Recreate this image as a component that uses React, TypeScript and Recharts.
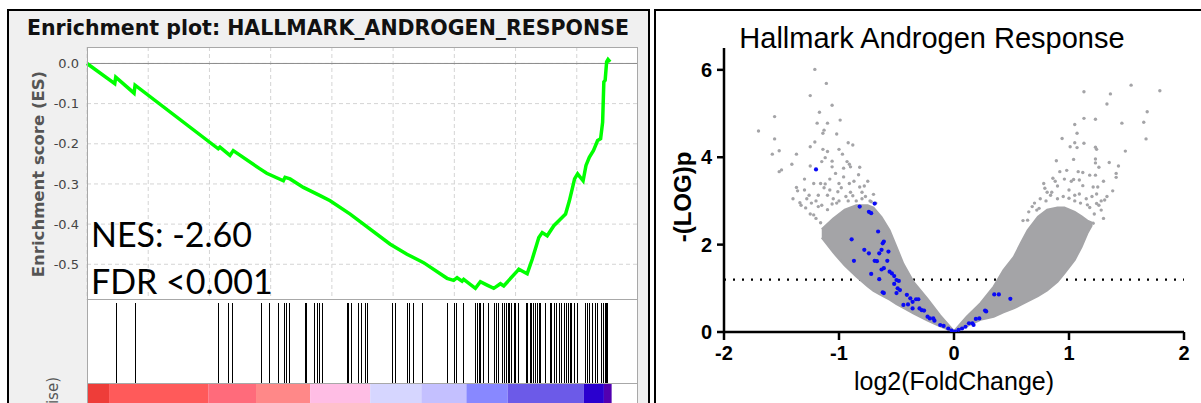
import React from "react";
import {
  ComposedChart,
  LineChart,
  Line,
  Bar,
  Area,
  Scatter,
  XAxis,
  YAxis,
  CartesianGrid,
  ReferenceLine,
  ReferenceArea,
} from "recharts";

// ---------- GSEA enrichment plot ----------
const RANK_MAX = 27000;
const rankTicks = [3000, 6000, 9000, 12000, 15000, 18000, 21000, 24000];
const esTicks = [0, -0.1, -0.2, -0.3, -0.4, -0.5];

// running enrichment score along the ranked list
const esRank = [
  0, 1360, 1409, 2307, 2356, 6431, 6514, 7005, 7167, 8478, 8807, 9622, 9705, 9950, 10603,
  11423, 11914, 12896, 14859, 15679, 16332, 16494, 17643, 17967, 18134, 18379, 18458, 19032,
  19277, 19606, 19931, 20259, 20421, 21079, 21158, 21570, 21816, 22140, 22307, 22552, 22876,
  23205, 23450, 23637, 23794, 23892, 24040, 24310, 24452, 24614, 24820, 25021, 25168, 25267,
  25326, 25390, 25463, 25531, 25634,
];
const esScore = [
  0, -0.05, -0.034, -0.074, -0.054, -0.2125, -0.2085, -0.229, -0.217, -0.2625, -0.2735, -0.292,
  -0.2835, -0.2875, -0.3085, -0.329, -0.342, -0.375, -0.45, -0.475, -0.492, -0.496, -0.535,
  -0.54, -0.5335, -0.542, -0.5375, -0.56, -0.5435, -0.552, -0.56, -0.5485, -0.554, -0.517,
  -0.5125, -0.5235, -0.4875, -0.4335, -0.421, -0.429, -0.404, -0.3875, -0.375, -0.342, -0.3085,
  -0.2875, -0.275, -0.292, -0.254, -0.2335, -0.2168, -0.192, -0.1875, -0.146, -0.046, -0.042,
  0.004, 0.01, 0.004,
];

// positions of gene-set members in the ranked list
const hitRanks = [
  1409, 2342, 6426, 6912, 7128, 8527, 8944, 9347, 9671, 9739, 9887, 10687, 10736, 11129, 11261,
  11389, 11507, 12734, 12813, 12931, 13274, 13436, 13633, 13745, 14943, 15105, 15679, 15758,
  15974, 16416, 17643, 17967, 18100, 18428, 19032, 19130, 19194, 19278, 19425, 19656, 19936,
  20048, 20137, 20343, 20456, 20554, 20618, 20701, 20785, 20912, 20996, 21109, 21521, 21585,
  21698, 21767, 21880, 21978, 22061, 22140, 22223, 22468, 22689, 22714, 22876, 22984, 23122,
  23239, 23367, 23451, 23583, 23662, 23730, 23858, 23990, 24398, 24516, 24614, 24761, 24874,
  25006, 25203, 25301, 25365, 25429, 25463,
];

// ranked list metric heat strip
const stripFrom = [0, 1080, 5940, 8282, 10933, 13878, 16382, 18591, 20618, 24349, 25330];
const stripTo = [1080, 5940, 8282, 10933, 13878, 16382, 18591, 20618, 24349, 25330, 25708];
const stripColor = [
  "#ee3d39", "#ff5a5a", "#ff6b7b", "#ff8888", "#ffbde4", "#d6d6ff",
  "#c4c0ff", "#8888ff", "#6c5ae8", "#2a00cf", "#5200b0",
];

// ---------- volcano plot ----------
const fcTicks = [-2, -1, 0, 1, 2];
const pTicks = [0, 2, 4, 6];
const pCutoff = 1.2;

// envelope of the dense point cloud
const bandX = [
  -1.15, -1.05, -0.95, -0.85, -0.75, -0.7, -0.63, -0.56, -0.5, -0.44, -0.35, -0.23, -0.12, 0,
  0.11, 0.23, 0.345, 0.43, 0.52, 0.58, 0.64, 0.73, 0.81, 0.9, 0.96, 1.05, 1.11, 1.16, 1.2,
];
const bandLo = [
  2.16, 1.82, 1.52, 1.27, 1.04, 0.94, 0.84, 0.74, 0.64, 0.55, 0.42, 0.26, 0.13, 0,
  0.13, 0.28, 0.35, 0.45, 0.54, 0.62, 0.7, 0.82, 0.95, 1.15, 1.34, 1.65, 1.95, 2.26, 2.45,
];
const bandHi = [
  2.35, 2.6, 2.8, 2.9, 2.9, 2.85, 2.63, 2.33, 1.95, 1.56, 1.14, 0.76, 0.38, 0.02,
  0.35, 0.66, 1.04, 1.42, 1.72, 2.03, 2.33, 2.64, 2.8, 2.85, 2.85, 2.75, 2.65, 2.55, 2.5,
];

// scattered genes outside the dense cloud
const grayX = [
  -1.21, -1.11, -1.25, -1.06, -1.17, -1.56, -0.99, -1.19, -1.1, -1.7, -1.13, -1.14, -1.02, -1.56,
  -1.21, -0.92, -0.88, -1.25, -1.14, -1.0, -1.52, -1.1, -1.58, -1.37, -0.97, -1.12, -1.06, -1.15,
  -0.93, -0.91, -0.82, -0.9, -1.41, -1.25, -1.5, -1.52, -1.06, -1.03, -1.22, -1.16, -1.12, -1.37,
  -1.36, -1.0, -0.91, -0.82, -0.78, -1.26, -1.34, -1.29, -1.18, -1.1, -1.01, -0.94, -1.22, -1.18,
  -1.06, -0.8, -0.88, -0.72,
  -1.3, -1.28, -1.24, -1.2, -1.15, -1.13, -1.08, -1.05, -1.0, -0.98, -0.96, -0.9, -0.87, -0.85,
  -0.83, -0.8, -0.77, -0.75, -0.73, -0.7, -0.68, -1.2, -1.25, -1.16, -1.1, -1.02, -0.92, -0.96,
  -1.08, -1.3, -1.4, -1.33,
  1.54, 1.79, 1.13, 1.36, 1.33, 1.68, 1.13, 1.23, 1.46, 1.65, 1.05, 1.07, 0.94, 1.67, 1.05, 1.13,
  1.01, 1.07, 1.23, 1.24, 1.49, 0.89, 1.04, 1.23, 1.23, 1.35, 1.26, 1.43, 0.92, 1.08, 1.12, 1.18,
  1.41, 1.41, 1.23, 0.86, 1.04, 1.09, 1.21, 1.25, 0.9, 0.79, 0.81, 0.84, 1.38, 1.24, 1.09, 1.05,
  1.0, 1.33, 1.31, 1.16, 1.24, 0.68, 0.74, 0.72, 1.28, 0.64, 1.21,
  0.7, 0.75, 0.8, 0.85, 0.9, 0.95, 1.0, 1.05, 1.1, 1.15, 1.18, 1.22, 0.78, 0.88, 0.96, 1.12,
  1.2, 1.28, 1.3, 0.65, 0.6, 0.98, 1.02, 1.3, 1.26,
];
const grayY = [
  6.01, 5.69, 5.41, 5.19, 5.03, 4.93, 4.85, 4.78, 4.78, 4.6, 4.62, 4.55, 4.53, 4.42,
  4.35, 4.33, 4.28, 4.24, 4.18, 4.18, 4.15, 4.13, 4.07, 4.07, 4.07, 3.99, 3.91, 3.9,
  3.9, 3.84, 3.77, 3.78, 3.84, 3.8, 3.71, 3.67, 3.78, 3.63, 3.4, 3.4, 3.39, 3.31,
  3.23, 3.4, 3.4, 3.32, 3.34, 3.13, 2.96, 2.84, 3.13, 3.13, 3.21, 3.1, 2.68, 2.87,
  2.93, 3.05, 3.12, 2.98,
  3.25, 3.05, 2.95, 3.0, 2.9, 3.3, 3.25, 3.05, 3.0, 3.3, 3.55, 3.2, 3.45, 3.0,
  3.6, 3.2, 3.1, 3.45, 3.0, 3.15, 2.95, 2.6, 2.7, 2.5, 2.8, 2.95, 3.0, 3.75,
  3.5, 3.5, 3.05, 2.9,
  5.65, 5.52, 5.5, 5.45, 5.22, 5.04, 4.89, 4.87, 4.78, 4.8, 4.75, 4.55, 4.43, 4.42, 4.33, 4.32,
  4.24, 4.22, 4.23, 4.18, 4.14, 3.92, 3.95, 3.96, 3.87, 3.88, 3.77, 3.8, 3.67, 3.67, 3.65, 3.59,
  3.63, 3.54, 3.59, 3.52, 3.49, 3.48, 3.32, 3.32, 3.34, 3.29, 3.2, 3.13, 3.23, 3.16, 3.16, 3.13,
  3.06, 3.1, 3.02, 2.91, 2.94, 2.87, 2.83, 2.79, 2.79, 2.56, 2.49,
  2.95, 3.05, 3.0, 3.2, 3.05, 3.1, 3.25, 3.0, 2.95, 3.05, 2.85, 2.7, 3.4, 3.45, 3.5, 3.35,
  3.1, 3.0, 2.6, 2.75, 2.55, 3.7, 3.45, 3.45, 2.9,
];

// HALLMARK_ANDROGEN_RESPONSE genes
const setX = [
  -1.2, -0.69, -0.82, -0.74, -0.72, -0.66, -0.89, -0.61, -0.62, -0.78, -0.74, -0.65, -0.63,
  -0.57, -0.87, -0.69, -0.67, -0.58, -0.61, -0.63, -0.56, -0.54, -0.72, -0.52, -0.5, -0.48,
  -0.65, -0.52, -0.49, -0.47, -0.62, -0.61, -0.5, -0.41, -0.38, -0.33, -0.31, -0.36, -0.44,
  -0.4, -0.36, -0.3, -0.28, -0.26, -0.23, -0.21, -0.18, -0.17, -0.12, -0.09, -0.05, -0.02,
  0.01, 0.04, 0.07, 0.1, 0.13, 0.16, 0.17, 0.19, 0.22, 0.27, 0.28, 0.35, 0.39, 0.49,
];
const setY = [
  3.72, 2.94, 2.87, 2.75, 2.72, 2.3, 2.12, 2.07, 2.03, 1.88, 1.8, 1.8, 1.88,
  1.84, 1.63, 1.63, 1.62, 1.63, 1.46, 1.43, 1.38, 1.34, 1.33, 1.28, 1.19, 1.17,
  1.21, 1.1, 1.0, 0.96, 0.91, 0.89, 0.89, 0.85, 0.77, 0.75, 0.75, 0.69, 0.62,
  0.63, 0.54, 0.54, 0.5, 0.49, 0.35, 0.31, 0.31, 0.26, 0.16, 0.14, 0.08, 0.03,
  0.01, 0.05, 0.08, 0.12, 0.2, 0.2, 0.16, 0.3, 0.31, 0.49, 0.47, 0.86, 0.86, 0.76,
];

const esRows = esRank.map((rank, i) => ({ rank, es: esScore[i] }));
const hitRows = hitRanks.map((rank) => ({ rank, hit: 1 }));
const stripRows = stripFrom.map((rank) => ({ rank, level: 0 }));
const bandRows = bandX.map((x, i) => ({ x, band: [bandLo[i], bandHi[i]] }));
const grayRows = grayX.map((x, i) => ({ x, y: grayY[i] }));
const setRows = setX.map((x, i) => ({ x, y: setY[i] }));

const GRAY = "#a4a4a7";
const tahoma = "'DejaVu Sans', Verdana, sans-serif";
const arial = "'Liberation Sans', Arial, sans-serif";

const grayDot = (p: any) => <circle cx={p.cx} cy={p.cy} r={1.7} fill={GRAY} />;
const blueDot = (p: any) => <circle cx={p.cx} cy={p.cy} r={2.1} fill="#0a0af5" />;
// one crisp pixel-wide tick per hit
const hitTick = (p: any) => (
  <rect x={Math.round(p.x + p.width / 2)} y={p.y} width={1} height={p.height} fill="#000" />
);

const abs = (left: number, top: number, extra: React.CSSProperties = {}): React.CSSProperties => ({
  position: "absolute",
  left,
  top,
  ...extra,
});

// text rotated to read bottom-to-top, centred on (cx, cy)
function VText({ cx, cy, size, children, style }: any) {
  const len = 400;
  return (
    <div
      style={abs(cx - size / 2, cy + len / 2, {
        width: len,
        height: size,
        lineHeight: `${size}px`,
        textAlign: "center",
        whiteSpace: "nowrap",
        transform: "rotate(-90deg)",
        transformOrigin: "left top",
        ...style,
      })}
    >
      {children}
    </div>
  );
}

function EnrichmentPanel() {
  return (
    <>
      <div
        style={abs(7, 9, {
          width: 643,
          height: 420,
          background: "#f0f0f0",
          border: "2px solid #000",
          boxSizing: "border-box",
        })}
      />
      <div
        style={abs(0, 17, {
          width: 656,
          textAlign: "center",
          fontFamily: tahoma,
          fontWeight: "bold",
          fontSize: 20.5,
          lineHeight: "22px",
          color: "#111",
        })}
      >
        Enrichment plot: HALLMARK_ANDROGEN_RESPONSE
      </div>

      <div style={abs(0, 47)}>
        <LineChart width={638} height={253} data={esRows} margin={{ top: 0, right: 0, bottom: 0, left: 0 }}>
          <CartesianGrid fill="#fff" stroke="#d4d4d4" strokeDasharray="4 3" />
          <XAxis dataKey="rank" type="number" domain={[0, RANK_MAX]} ticks={rankTicks} hide />
          <YAxis
            type="number"
            width={87}
            domain={[-0.589, 0.041]}
            allowDataOverflow
            ticks={esTicks}
            tickFormatter={(v: number) => v.toFixed(1)}
            axisLine={false}
            tickLine={false}
            tick={{ fill: "#444", fontSize: 13, fontFamily: tahoma }}
          />
          <ReferenceLine y={0} stroke="#8c8c8c" strokeWidth={1} />
          <Line
            dataKey="es"
            type="linear"
            stroke="#00ff00"
            strokeWidth={3.5}
            dot={false}
            activeDot={false}
            isAnimationActive={false}
          />
        </LineChart>
      </div>

      <div style={abs(87, 300, { width: 551, height: 110, background: "#fff" })} />
      {/* hit markers */}
      <div style={abs(0, 300)}>
        <ComposedChart width={638} height={84} data={hitRows} margin={{ top: 3, right: 0, bottom: 0, left: 87 }}>
          <XAxis dataKey="rank" type="number" domain={[0, RANK_MAX]} hide />
          <YAxis type="number" domain={[0, 1]} hide />
          <Bar dataKey="hit" barSize={1} fill="#000" shape={hitTick} isAnimationActive={false} />
        </ComposedChart>
      </div>
      {/* metric colour strip */}
      <div style={abs(0, 384)}>
        <ComposedChart width={638} height={22} data={stripRows} margin={{ top: 0, right: 0, bottom: 0, left: 87 }}>
          <XAxis dataKey="rank" type="number" domain={[0, RANK_MAX]} hide />
          <YAxis type="number" domain={[0, 1]} hide />
          <Line dataKey="level" stroke="none" dot={false} activeDot={false} isAnimationActive={false} />
          {stripColor.map((c, i) => (
            <ReferenceArea
              key={c}
              x1={stripFrom[i]}
              x2={stripTo[i]}
              y1={0}
              y2={1}
              fill={c}
              fillOpacity={1}
              stroke="none"
            />
          ))}
        </ComposedChart>
      </div>

      {/* frame and separators of the plot stack */}
      <div
        style={abs(87, 47, {
          width: 551,
          height: 380,
          border: "1px solid #a8a8a8",
          boxSizing: "border-box",
          pointerEvents: "none",
        })}
      />
      <div style={abs(87, 299, { width: 551, height: 1, background: "#a8a8a8" })} />
      <div style={abs(87, 383, { width: 551, height: 1, background: "#a8a8a8" })} />

      <VText cx={38.5} cy={174} size={16} style={{ fontFamily: tahoma, fontWeight: "bold", fontSize: 16.5, color: "#555" }}>
        Enrichment score (ES)
      </VText>
      <div
        style={abs(45, 677, {
          width: 300,
          height: 16,
          lineHeight: "16px",
          textAlign: "right",
          whiteSpace: "nowrap",
          transform: "rotate(-90deg)",
          transformOrigin: "left top",
          fontFamily: tahoma,
          fontSize: 15,
          color: "#555",
        })}
      >
        Ranked list metric (Signal2Noise)
      </div>

      <div style={abs(91, 217, { fontFamily: "Lato, sans-serif", fontSize: 34, lineHeight: "34px", color: "#000" })}>
        NES: -2.60
      </div>
      <div style={abs(91, 264, { fontFamily: "Lato, sans-serif", fontSize: 34, lineHeight: "34px", color: "#000" })}>
        FDR &lt;0.001
      </div>
    </>
  );
}

function VolcanoPanel() {
  const axisStroke = { stroke: "#000", strokeWidth: 2.5 };
  const tickFont = { fill: "#000", fontSize: 20, fontWeight: "bold", fontFamily: arial };
  return (
    <>
      <div
        style={abs(654, 9, {
          width: 600,
          height: 420,
          background: "#fff",
          border: "2px solid #000",
          boxSizing: "border-box",
        })}
      />
      <div
        style={abs(632, 24, {
          width: 600,
          textAlign: "center",
          fontFamily: arial,
          fontSize: 29,
          lineHeight: "29px",
          color: "#000",
        })}
      >
        Hallmark Androgen Response
      </div>

      <div style={abs(660, 14)}>
        <ComposedChart width={541} height={389} data={bandRows} margin={{ top: 34, right: 17, bottom: 0, left: 0 }}>
          <XAxis
            dataKey="x"
            type="number"
            domain={[-2, 2]}
            ticks={fcTicks}
            height={71}
            axisLine={axisStroke}
            tickLine={axisStroke}
            tickSize={8}
            tickMargin={6}
            tick={tickFont}
          />
          <YAxis
            dataKey="y"
            type="number"
            domain={[0, 6.5]}
            allowDataOverflow
            ticks={pTicks}
            width={64}
            axisLine={axisStroke}
            tickLine={axisStroke}
            tickSize={7}
            tickMargin={5}
            tick={tickFont}
          />
          <ReferenceLine
            y={pCutoff}
            stroke="#000"
            strokeWidth={2.2}
            strokeDasharray="2 7"
            zIndex={50}
          />
          <Area
            dataKey="band"
            type="linear"
            fill={GRAY}
            fillOpacity={1}
            stroke={GRAY}
            strokeWidth={2}
            dot={false}
            activeDot={false}
            isAnimationActive={false}
          />
          <Scatter data={grayRows} shape={grayDot} isAnimationActive={false} />
          <Scatter data={setRows} shape={blueDot} isAnimationActive={false} />
        </ComposedChart>
      </div>

      <div
        style={abs(754, 369, {
          width: 400,
          textAlign: "center",
          fontFamily: arial,
          fontSize: 25,
          lineHeight: "25px",
          color: "#000",
        })}
      >
        log2(FoldChange)
      </div>
      <VText cx={683} cy={197} size={24} style={{ fontFamily: arial, fontWeight: "bold", fontSize: 24, color: "#000" }}>
        -(LOG)p
      </VText>
    </>
  );
}

export default function App() {
  return (
    <div
      style={{
        position: "absolute",
        left: 0,
        top: 0,
        width: 1201,
        height: 403,
        overflow: "hidden",
        background: "#fff",
      }}
    >
      <EnrichmentPanel />
      <VolcanoPanel />
    </div>
  );
}
